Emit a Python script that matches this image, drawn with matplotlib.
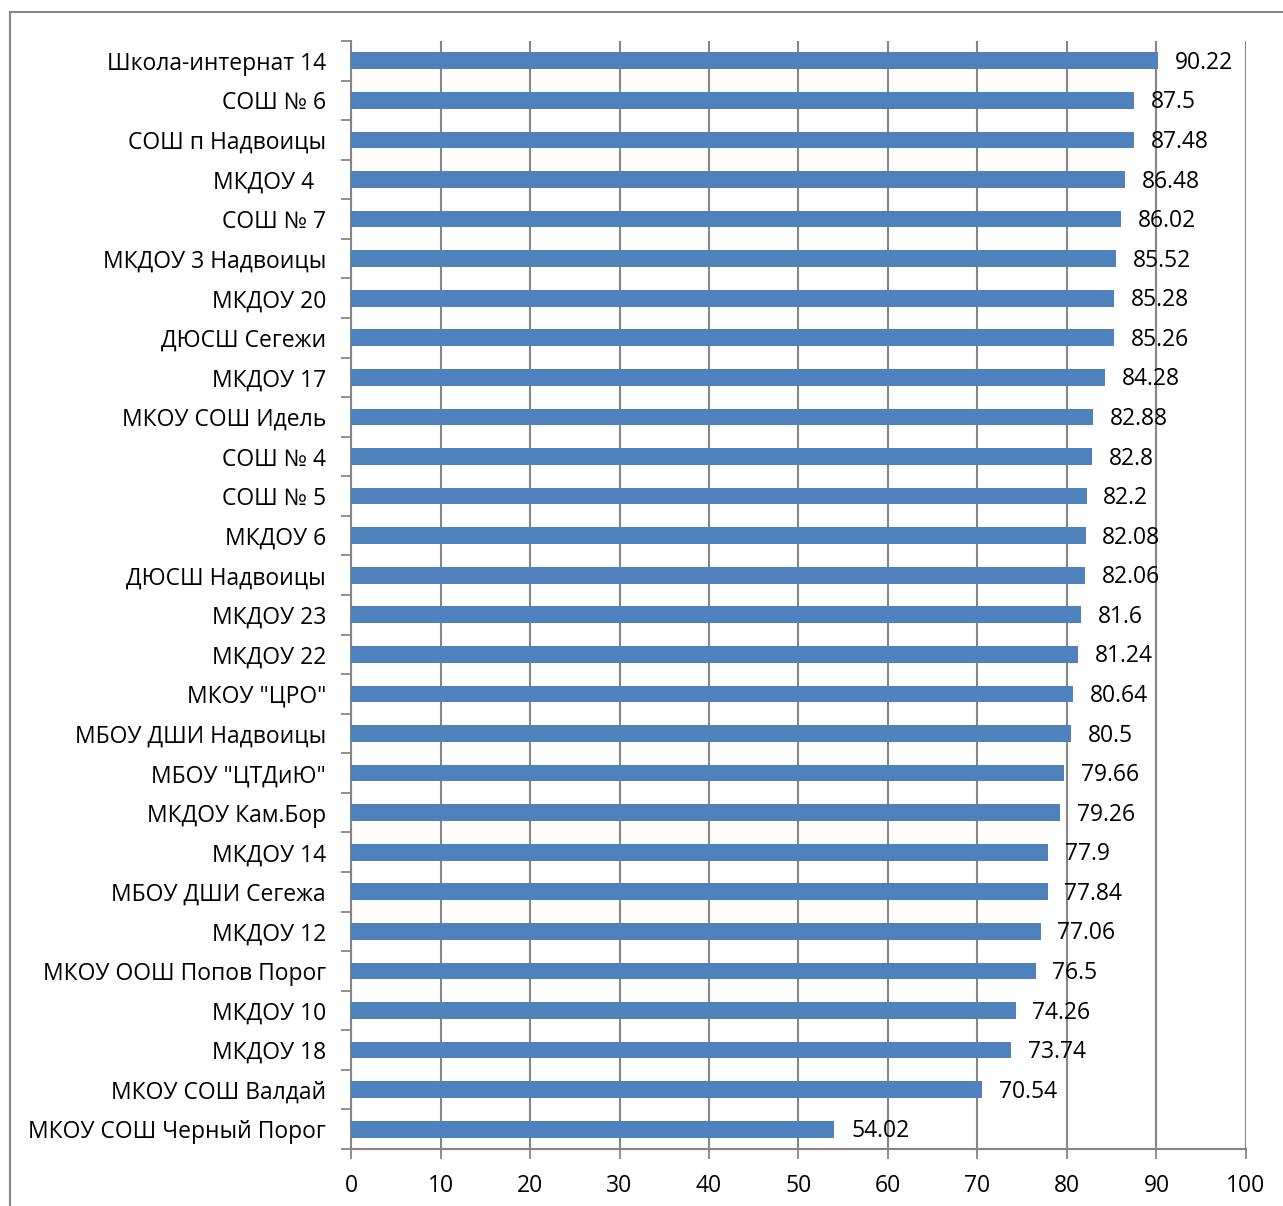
import numpy as np
import matplotlib
matplotlib.use("Agg")
from matplotlib import pyplot as plt
from matplotlib.patches import Rectangle

plt.rcParams['font.family'] = ['Open Sans', 'DejaVu Sans']

labels = [
    "Школа-интернат 14", "СОШ № 6", "СОШ п Надвоицы", "МКДОУ 4  ", "СОШ № 7",
    "МКДОУ 3 Надвоицы", "МКДОУ 20", "ДЮСШ Сегежи", "МКДОУ 17", "МКОУ СОШ Идель",
    "СОШ № 4", "СОШ № 5", "МКДОУ 6", "ДЮСШ Надвоицы", "МКДОУ 23", "МКДОУ 22",
    "МКОУ \"ЦРО\"", "МБОУ ДШИ Надвоицы", "МБОУ \"ЦТДиЮ\"", "МКДОУ Кам.Бор",
    "МКДОУ 14", "МБОУ ДШИ Сегежа", "МКДОУ 12", "МКОУ ООШ Попов Порог",
    "МКДОУ 10", "МКДОУ 18", "МКОУ СОШ Валдай", "МКОУ СОШ Черный Порог",
]
values = [
    90.22, 87.5, 87.48, 86.48, 86.02, 85.52, 85.28, 85.26, 84.28, 82.88,
    82.8, 82.2, 82.08, 82.06, 81.6, 81.24, 80.64, 80.5, 79.66, 79.26,
    77.9, 77.84, 77.06, 76.5, 74.26, 73.74, 70.54, 54.02,
]

W, H = 1283, 1206
fig = plt.figure(figsize=(W / 100, H / 100), dpi=100)
ax = fig.add_axes([351 / W, 1 - 1149 / H, (1246 - 351) / W, (1149 - 41) / H])

# outer chart frame (cut by the image edge on right and bottom)
fig.patches.append(Rectangle((10 / W, -0.1), 2, 1 - 12 / H + 0.1,
                             transform=fig.transFigure, fill=False,
                             edgecolor='#868686', linewidth=1.5))

n = len(labels)
y = np.arange(n)
ax.barh(y, values, height=0.42, color='#4F81BD', zorder=3)

for yi, v in zip(y, values):
    ax.annotate(f"{v:g}", (v, yi), xytext=(12, -1.5), textcoords='offset points',
                ha='left', va='center', fontsize=16.5, zorder=4)

ax.set_xlim(0, 100)
ax.set_ylim(n - 0.5, -0.5)
ax.set_xticks(np.arange(0, 101, 10))
ax.set_yticks(y)
ax.set_yticklabels(labels)
ax.set_yticks(np.arange(-0.5, n, 1), minor=True)
ax.tick_params(axis='y', which='major', length=0, pad=18, labelsize=16.5)
ax.tick_params(axis='y', which='minor', length=7, width=1.3, color='#868686')
ax.tick_params(axis='x', length=7, width=1.3, color='#868686', pad=11, labelsize=16.5)

ax.grid(axis='x', color='#868686', linewidth=1.5, zorder=0)
for side in ['top', 'right']:
    ax.spines[side].set_visible(False)
for side in ['left', 'bottom']:
    ax.spines[side].set_color('#868686')
    ax.spines[side].set_linewidth(1.5)

fig.savefig("out.png", dpi=100)
